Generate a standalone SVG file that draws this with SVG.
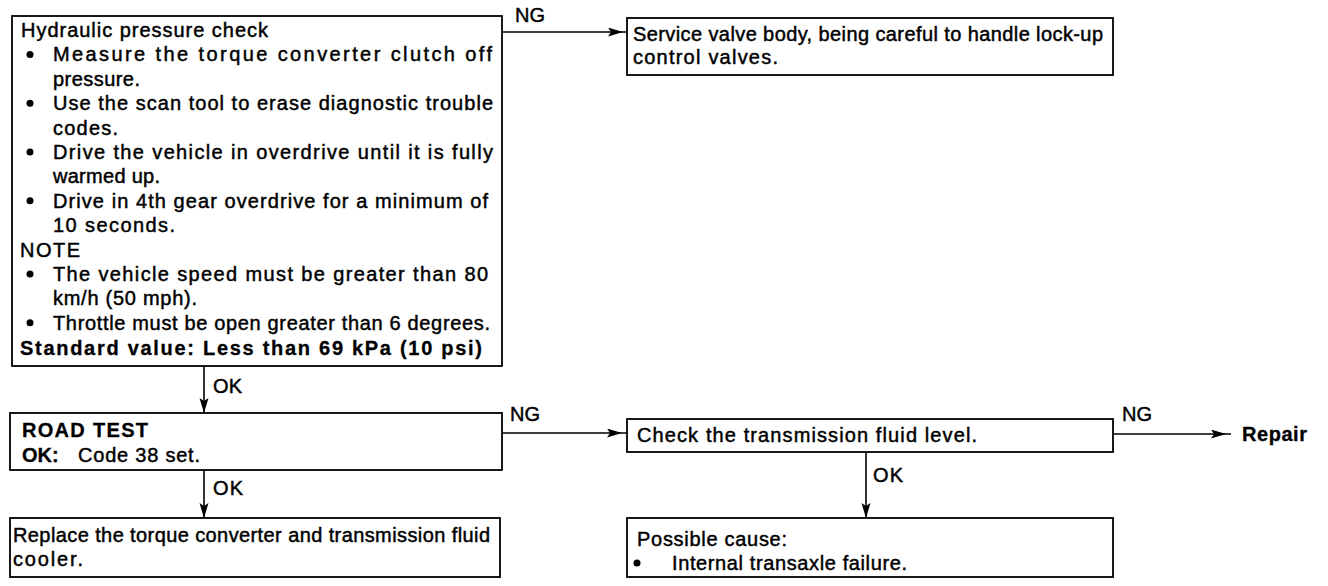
<svg xmlns="http://www.w3.org/2000/svg" width="1328" height="586" viewBox="0 0 1328 586">
<defs>
<style>
.box{fill:#fff;stroke:#000;stroke-width:1.8}
.t{font-family:"Liberation Sans",Arial,Helvetica,sans-serif;font-size:20px;fill:#000;stroke:#000;stroke-width:0.45}
.b{font-weight:bold;stroke-width:0.3}
.lbl{font-family:"Liberation Sans",Arial,Helvetica,sans-serif;font-size:20px;fill:#000;stroke:#000;stroke-width:0.45}
.con{fill:none;stroke:#000;stroke-width:1.6}
.dot{fill:#000}
</style>
<marker id="ah" markerUnits="userSpaceOnUse" markerWidth="22" markerHeight="12" refX="15" refY="4.5" orient="auto">
<path d="M0,0 L15,4.5 L0,9 L3,4.5 Z" fill="#000"/>
</marker>
<marker id="aht" markerUnits="userSpaceOnUse" markerWidth="24" markerHeight="12" refX="20" refY="4.5" orient="auto">
<path d="M0,0 L15,4.5 L0,9 L3,4.5 Z" fill="#000"/>
</marker>
</defs>
<rect width="1328" height="586" fill="#fff"/>

<g id="connectors">
<line class="con" x1="502" y1="32" x2="628" y2="32" marker-end="url(#aht)"/>
<text class="lbl" x="515" y="22" textLength="30">NG</text>
<line class="con" x1="204" y1="366" x2="204" y2="413" marker-end="url(#ah)"/>
<text class="lbl" x="213" y="393" textLength="29">OK</text>
<line class="con" x1="502" y1="433" x2="627" y2="433" marker-end="url(#aht)"/>
<text class="lbl" x="510" y="421" textLength="30">NG</text>
<line class="con" x1="204" y1="470" x2="204" y2="518" marker-end="url(#ah)"/>
<text class="lbl" x="213" y="495" textLength="30">OK</text>
<line class="con" x1="866" y1="452" x2="866" y2="518" marker-end="url(#ah)"/>
<text class="lbl" x="873" y="482" textLength="30">OK</text>
<line class="con" x1="1113" y1="434" x2="1231" y2="434" marker-end="url(#aht)"/>
<text class="lbl" x="1122" y="421" textLength="30">NG</text>
</g>

<g id="node-hydraulic">
<rect class="box" x="12" y="16" width="490" height="350"/>
<text class="t" x="21" y="37" textLength="247">Hydraulic pressure check</text>
<circle class="dot" cx="30" cy="54.4" r="3.5"/>
<text class="t" x="53" y="61.4" textLength="439">Measure the torque converter clutch off</text>
<text class="t" x="53" y="85.8" textLength="87">pressure.</text>
<circle class="dot" cx="30" cy="103.2" r="3.5"/>
<text class="t" x="53" y="110.2" textLength="440">Use the scan tool to erase diagnostic trouble</text>
<text class="t" x="53" y="134.6" textLength="65">codes.</text>
<circle class="dot" cx="30" cy="152" r="3.5"/>
<text class="t" x="53" y="159" textLength="440">Drive the vehicle in overdrive until it is fully</text>
<text class="t" x="53" y="183.4" textLength="107">warmed up.</text>
<circle class="dot" cx="30" cy="200.8" r="3.5"/>
<text class="t" x="53" y="207.8" textLength="435">Drive in 4th gear overdrive for a minimum of</text>
<text class="t" x="53" y="232.2" textLength="122">10 seconds.</text>
<text class="t" x="20" y="256.6" textLength="60">NOTE</text>
<circle class="dot" cx="30" cy="274" r="3.5"/>
<text class="t" x="53" y="281" textLength="435">The vehicle speed must be greater than 80</text>
<text class="t" x="53" y="305.4" textLength="144">km/h (50 mph).</text>
<circle class="dot" cx="30" cy="322.8" r="3.5"/>
<text class="t" x="53" y="329.8" textLength="437">Throttle must be open greater than 6 degrees.</text>
<text class="t b" x="20" y="355" textLength="462">Standard value: Less than 69 kPa (10 psi)</text>
</g>

<g id="node-service">
<rect class="box" x="627" y="18" width="486" height="57"/>
<text class="t" x="633" y="41" textLength="470">Service valve body, being careful to handle lock-up</text>
<text class="t" x="633" y="64" textLength="145">control valves.</text>
</g>

<g id="node-roadtest">
<rect class="box" x="10" y="413" width="492" height="57"/>
<text class="t b" x="22" y="437" textLength="126">ROAD TEST</text>
<text class="t" x="22" y="462"><tspan class="b">OK:</tspan><tspan x="78" textLength="122">Code 38 set.</tspan></text>
</g>

<g id="node-replace">
<rect class="box" x="10" y="518" width="490" height="59"/>
<text class="t" x="13" y="542" textLength="477">Replace the torque converter and transmission fluid</text>
<text class="t" x="13" y="566" textLength="70">cooler.</text>
</g>

<g id="node-check">
<rect class="box" x="627" y="419" width="486" height="33"/>
<text class="t" x="637" y="442" textLength="340">Check the transmission fluid level.</text>
</g>

<g id="node-cause">
<rect class="box" x="627" y="518" width="486" height="59"/>
<text class="t" x="637" y="546" textLength="150">Possible cause:</text>
<circle class="dot" cx="637" cy="563" r="3.5"/>
<text class="t" x="672" y="570" textLength="235">Internal transaxle failure.</text>
</g>

<g id="node-repair">
<text class="t b" x="1242" y="441" textLength="65">Repair</text>
</g>
</svg>
